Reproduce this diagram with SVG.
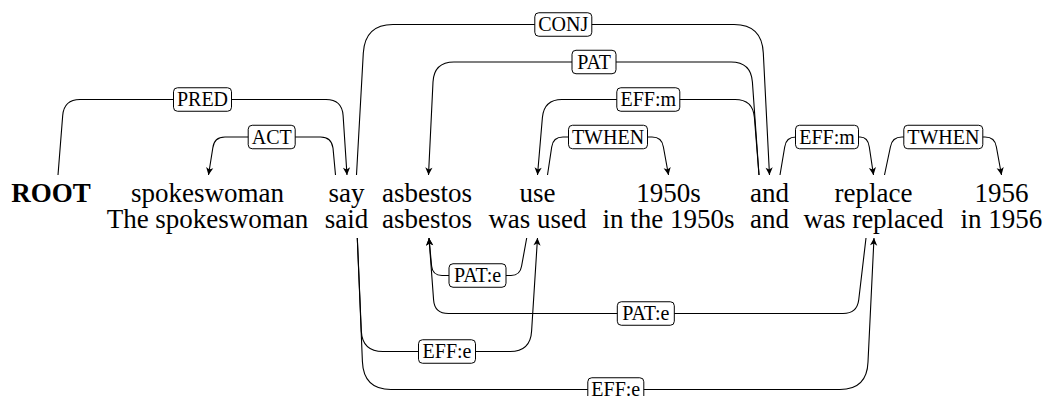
<svg xmlns="http://www.w3.org/2000/svg" width="1047" height="396" viewBox="0 0 1047 396">
<defs>
<style>
.w{font-family:"Liberation Serif","Times New Roman",serif;font-size:27px;text-anchor:middle;fill:#000}
.b{font-weight:bold}
.e{fill:none;stroke:#000;stroke-width:1.1;marker-end:url(#ah)}
.box{fill:#fff;stroke:#000;stroke-width:1}
.lt{font-family:"Liberation Serif","Times New Roman",serif;font-size:20px;text-anchor:middle;fill:#000}
</style>
<marker id="ah" markerUnits="userSpaceOnUse" markerWidth="12" markerHeight="12" viewBox="-10 -6 12 12" refX="0" refY="0" orient="auto" overflow="visible">
<path d="M0,0 L-7.5,-3.6 L-5.6,0 L-7.5,3.6 Z" fill="#000"/>
</marker>
</defs>
<rect width="1047" height="396" fill="#fff"/>

<g id="w-root"><text class="w b" x="51" y="201.5">ROOT</text></g>
<g id="w-spokeswoman"><text class="w" x="207.5" y="201.5">spokeswoman</text><text class="w" x="207.5" y="228">The spokeswoman</text></g>
<g id="w-say"><text class="w" x="346.5" y="201.5">say</text><text class="w" x="346.5" y="228">said</text></g>
<g id="w-asbestos"><text class="w" x="427" y="201.5">asbestos</text><text class="w" x="427" y="228">asbestos</text></g>
<g id="w-use"><text class="w" x="537.5" y="201.5">use</text><text class="w" x="537.5" y="228">was used</text></g>
<g id="w-1950s"><text class="w" x="668.5" y="201.5">1950s</text><text class="w" x="668.5" y="228">in the 1950s</text></g>
<g id="w-and"><text class="w" x="769.5" y="201.5">and</text><text class="w" x="769.5" y="228">and</text></g>
<g id="w-replace"><text class="w" x="873.5" y="201.5">replace</text><text class="w" x="873.5" y="228">was replaced</text></g>
<g id="w-1956"><text class="w" x="1001.5" y="201.5">1956</text><text class="w" x="1001.5" y="228">in 1956</text></g>

<g id="connectors">
<g id="e-pred"><path class="e" d="M58,175 L62.7,115.5 Q64,99.5 80,99.5 L326,99.5 Q342,99.5 343.1,115.5 L347,175"/>
<rect class="box" x="173.5" y="87.75" width="58" height="23.5" rx="4"/><text class="lt" x="202.5" y="106.3">PRED</text></g>
<g id="e-act"><path class="e" d="M335.5,175 L333,148 Q331.5,137 320.5,137 L225,137 Q214,137 212.8,148 L208.5,175"/>
<rect class="box" x="248.2" y="125.25" width="47" height="23.5" rx="4"/><text class="lt" x="271.7" y="143.8">ACT</text></g>
<g id="e-conj"><path class="e" d="M356.5,175 L363.3,53 Q365,24.5 393,24.5 L734,24.5 Q762,24.5 763.3,53 L769.5,175"/>
<rect class="box" x="534.8" y="12.75" width="57" height="23.5" rx="4"/><text class="lt" x="563.3" y="31.3">CONJ</text></g>
<g id="e-pat"><path class="e" d="M759,175 L752.4,82 Q751,62 731,62 L454,62 Q434,62 433,82 L428.5,175"/>
<rect class="box" x="572" y="50.25" width="44" height="23.5" rx="4"/><text class="lt" x="594" y="68.8">PAT</text></g>
<g id="e-effm1"><path class="e" d="M759,175 L754.4,117.5 Q753,99.5 735,99.5 L562,99.5 Q544,99.5 542.4,117.5 L537.5,175"/>
<rect class="box" x="616.8" y="87.75" width="63" height="23.5" rx="4"/><text class="lt" x="648.3" y="106.3">EFF:m</text></g>
<g id="e-twhen1"><path class="e" d="M547.5,175 L551.7,147 Q553,137 563,137 L652,137 Q662,137 663.4,147 L668.5,175"/>
<rect class="box" x="568.5" y="125.25" width="79" height="23.5" rx="4"/><text class="lt" x="608" y="143.8">TWHEN</text></g>
<g id="e-effm2"><path class="e" d="M780,175 L784.7,147 Q786,137 796,137 L860,137 Q868,137 869.3,147 L873.5,175"/>
<rect class="box" x="795.5" y="125.25" width="63" height="23.5" rx="4"/><text class="lt" x="827" y="143.8">EFF:m</text></g>
<g id="e-twhen2"><path class="e" d="M884.5,175 L890.4,147 Q892,137 902,137 L985,137 Q995,137 996.4,147 L1001.5,175"/>
<rect class="box" x="903.8" y="125.25" width="79" height="23.5" rx="4"/><text class="lt" x="943.3" y="143.8">TWHEN</text></g>
<g id="e-pate1"><path class="e" d="M526.7,238 L521.6,266 Q520.2,275.5 511,275.5 L442,275.5 Q432.5,275.5 431.6,266 L429,238"/>
<rect class="box" x="449" y="263.75" width="57" height="23.5" rx="4"/><text class="lt" x="477.5" y="282.3">PAT:e</text></g>
<g id="e-pate2"><path class="e" d="M866,238 L858.7,300 Q857,313.5 843,313.5 L448.5,313.5 Q434.5,313.5 433.6,300 L429,238"/>
<rect class="box" x="617.3" y="301.75" width="57" height="23.5" rx="4"/><text class="lt" x="645.8" y="320.3">PAT:e</text></g>
<g id="e-effe1"><path class="e" d="M357.3,238 L361.3,331 Q362.3,351.5 383,351.5 L510,351.5 Q530.5,351.5 531.6,331 L537.5,238"/>
<rect class="box" x="418.5" y="339.75" width="57" height="23.5" rx="4"/><text class="lt" x="447" y="358.3">EFF:e</text></g>
<g id="e-effe2"><path class="e" d="M357.3,238 L362.4,361.5 Q363.5,389.5 391,389.5 L840,389.5 Q867,389.5 868,362 L874,238"/>
<rect class="box" x="587.8" y="377.75" width="56" height="23.5" rx="4"/><text class="lt" x="615.8" y="396.3">EFF:e</text></g>
</g>
</svg>
